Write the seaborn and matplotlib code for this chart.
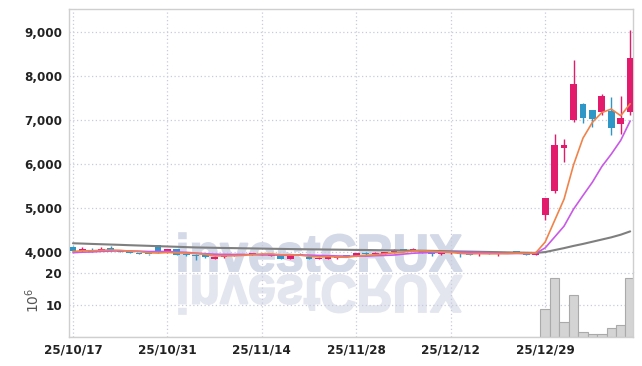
import numpy as np
import pandas as pd
import matplotlib
matplotlib.use("Agg")
import matplotlib.pyplot as plt
import seaborn as sns
from matplotlib.textpath import TextPath
from matplotlib.font_manager import FontProperties
from matplotlib.patches import PathPatch
from matplotlib.transforms import Affine2D

# ---------------- data ----------------
holidays = ["2025-12-25", "2025-12-31", "2026-01-01"]
dates = [d for d in pd.bdate_range("2025-10-17", "2026-01-13") if d.strftime("%Y-%m-%d") not in holidays]

opens = [4127, 4036, 4060, 4050, 4100, 4050, 4030, 3990, 3965, 4160,
         3990, 4065, 3960, 3946, 3932, 3855, 3886, 3932, 3940, 3946,
         3940, 3910, 3932, 3855, 3960, 3900, 3855, 3858, 3860, 3935,
         3916, 3975, 3950, 3961, 4007, 4068, 4060, 4052, 3990, 3955,
         3975, 3975, 3985, 3950, 3975, 3955, 4000, 4025, 4000, 3939,
         4847, 5393, 6360, 7000, 7380, 7227, 7190, 7205, 6910, 7190]
highs = [4145, 4110, 4100, 4115, 4150, 4060, 4040, 3995, 3970, 4170,
         4075, 4070, 3965, 3950, 3935, 3905, 3950, 3960, 3965, 3995,
         3975, 3960, 3940, 3960, 3975, 3905, 3885, 3900, 3895, 3945,
         3985, 4000, 4010, 4015, 4068, 4085, 4105, 4060, 3995, 3995,
         4000, 3980, 3990, 3985, 3985, 4000, 4010, 4036, 4010, 4025,
         5230, 6700, 6570, 8364, 7390, 7235, 7590, 7520, 7545, 9060]
lows = [4030, 4005, 4000, 4020, 4030, 4005, 3980, 3955, 3935, 3995,
        3985, 3940, 3925, 3825, 3880, 3850, 3880, 3925, 3930, 3940,
        3935, 3905, 3850, 3850, 3935, 3840, 3850, 3855, 3855, 3920,
        3910, 3945, 3945, 3955, 3990, 4040, 4020, 3990, 3916, 3930,
        3965, 3900, 3940, 3925, 3950, 3915, 3985, 3990, 3930, 3930,
        4733, 5340, 6045, 6955, 6932, 6840, 7114, 6666, 6682, 7114]
closes = [4036, 4082, 4010, 4082, 4040, 4010, 3985, 3962, 3955, 4005,
          4068, 3945, 3932, 3916, 3900, 3900, 3946, 3946, 3955, 3985,
          3970, 3955, 3855, 3950, 3946, 3845, 3880, 3895, 3890, 3925,
          3977, 3950, 3975, 4007, 4036, 4050, 4082, 3995, 3950, 3975,
          3990, 3965, 3945, 3970, 3960, 3990, 3990, 3995, 3939, 4017,
          5226, 6432, 6430, 7818, 7060, 7030, 7545, 6825, 7060, 8424]
prior_closes = [3950, 3970, 3945, 3975, 3970, 4000, 4010, 4025, 4019]

ma60 = [4205, 4198, 4190, 4183, 4176, 4169, 4161, 4154, 4147, 4139,
        4132, 4125, 4117, 4110, 4106, 4102, 4098, 4095, 4091, 4088,
        4084, 4080, 4077, 4073, 4070, 4067, 4065, 4062, 4060, 4057,
        4054, 4052, 4049, 4046, 4044, 4041, 4038, 4036, 4032, 4028,
        4024, 4019, 4015, 4011, 4007, 4003, 3998, 3994, 3990, 3986,
        4005, 4050, 4095, 4145, 4190, 4240, 4290, 4340, 4400, 4475]

volume = [0.12, 0.08, 0.06, 0.07, 0.09, 0.05, 0.05, 0.04, 0.04, 0.10,
          0.08, 0.06, 0.05, 0.06, 0.04, 0.05, 0.05, 0.04, 0.03, 0.05,
          0.04, 0.04, 0.06, 0.05, 0.03, 0.06, 0.04, 0.03, 0.04, 0.03,
          0.05, 0.04, 0.04, 0.05, 0.06, 0.05, 0.06, 0.05, 0.04, 0.03,
          0.03, 0.04, 0.04, 0.03, 0.03, 0.04, 0.03, 0.03, 0.05, 0.06,
          8.8, 18.3, 4.8, 12.9, 1.4, 1.0, 1.0, 2.7, 3.6, 18.3]

price_ticks = [4000, 5000, 6000, 7000, 8000, 9000]
vol_ticks = [10, 20]
xtick_idx = [0, 10, 20, 30, 40, 50]

# ---------------- styling ----------------
RED = "#E31B6D"
BLUE = "#2F96C8"
ORANGE = "#F0834A"
PURPLE = "#C85AE6"
GRAY = "#7F7F7F"
GRID = "#C9CBDC"
SPINE = "#CFCFCF"

sns.set_theme(style="white")
plt.rcParams["font.family"] = ["DejaVu Sans"]
LABEL_FONT = FontProperties(family="DejaVu Sans", stretch="condensed", weight="bold", size=9.5)

W, H = 642, 366
fig = plt.figure(figsize=(W / 100, H / 100), dpi=100)
ax = fig.add_axes([69 / W, 1 - 272 / H, (633 - 69) / W, (272 - 9) / H])
ax2 = fig.add_axes([69 / W, 1 - 337 / H, (633 - 69) / W, (337 - 272) / H], sharex=ax)

idx = np.arange(len(closes))
o = np.array(opens, float)
c = np.array(closes, float)
hi = np.array(highs, float)
lo = np.array(lows, float)

allc = pd.Series(prior_closes + closes, dtype=float)
ma5 = allc.rolling(5).mean().to_numpy()[len(prior_closes):]
ma10 = allc.rolling(10).mean().to_numpy()[len(prior_closes):]

df = pd.DataFrame({"idx": idx, "ma5": ma5, "ma10": ma10, "ma60": ma60, "vol": volume})

# watermark
tp = TextPath((0, 0), "investCRUX", size=100,
              prop=FontProperties(family="Liberation Sans", weight="bold"))
bb = tp.get_extents()
x0, x1, ytop, ybase = 179, 462, 233, 272
sx = (x1 - x0) / bb.width
sy = (ybase - ytop) / bb.height
t_top = (Affine2D().translate(-bb.x0, -bb.y0).scale(sx, sy)
         .translate(x0, H - ybase).scale(1 / W, 1 / H) + fig.transFigure)
ax.add_artist(PathPatch(tp, transform=t_top, facecolor="#D4D9E7", edgecolor="#D4D9E7",
                        linewidth=1.2, zorder=0.5))
t_bot = (Affine2D().translate(-bb.x0, -bb.y0).scale(sx, -sy)
         .translate(x0, H - 275).scale(1 / W, 1 / H) + fig.transFigure)
ax2.add_artist(PathPatch(tp, transform=t_bot, facecolor="#E3E5EF", edgecolor="#E3E5EF",
                         linewidth=1.2, zorder=0.5))

# candles
cols = [RED if cc >= oo else BLUE for oo, cc in zip(o, c)]
ax.vlines(idx, lo, hi, colors=cols, linewidth=1.0, zorder=2)
body = np.maximum(np.abs(c - o), 22)
ax.bar(idx, body, bottom=np.minimum(o, c), width=0.72, color=cols, linewidth=0, zorder=3)

# moving averages
sns.lineplot(data=df, x="idx", y="ma60", ax=ax, color=GRAY, linewidth=1.5, zorder=4)
sns.lineplot(data=df, x="idx", y="ma10", ax=ax, color=PURPLE, linewidth=1.2, zorder=5)
sns.lineplot(data=df, x="idx", y="ma5", ax=ax, color=ORANGE, linewidth=1.2, zorder=6)

# volume
sns.barplot(data=df, x="idx", y="vol", ax=ax2, native_scale=True, color="#D4D4D4",
            edgecolor="#AAAAAA", linewidth=0.8, width=1.0, saturation=1, errorbar=None, zorder=2)

# axes formatting
ax.set_xlim(-0.42, 59.3)
ax.set_ylim(3552, 9530)
ax2.set_ylim(0, 20.2)

ax.set_yticks(price_ticks, [f"{v:,}" for v in price_ticks])
ax2.set_yticks(vol_ticks, [str(v) for v in vol_ticks])
ax2.set_xticks(xtick_idx, [dates[i].strftime("%y/%m/%d") for i in xtick_idx])

for a in (ax, ax2):
    a.set_xlabel("")
    a.set_ylabel("")
    a.grid(True, color=GRID, linestyle=(0, (1, 2)), linewidth=0.9)
    a.set_axisbelow(True)
    a.tick_params(length=0, labelcolor="#222222", pad=5)
    for lab in a.get_xticklabels() + a.get_yticklabels():
        lab.set_fontproperties(LABEL_FONT)
    for s in a.spines.values():
        s.set_color(SPINE)
        s.set_linewidth(1.0)
ax.tick_params(labelbottom=False)
ax.spines["bottom"].set_visible(False)
ax2.spines["top"].set_visible(False)

fig.text(33 / W, 1 - 300 / H, r"$10^6$", rotation=90, ha="center", va="center",
         fontsize=10, color="#555555", family="DejaVu Sans")

fig.savefig("out.png", dpi=100)
